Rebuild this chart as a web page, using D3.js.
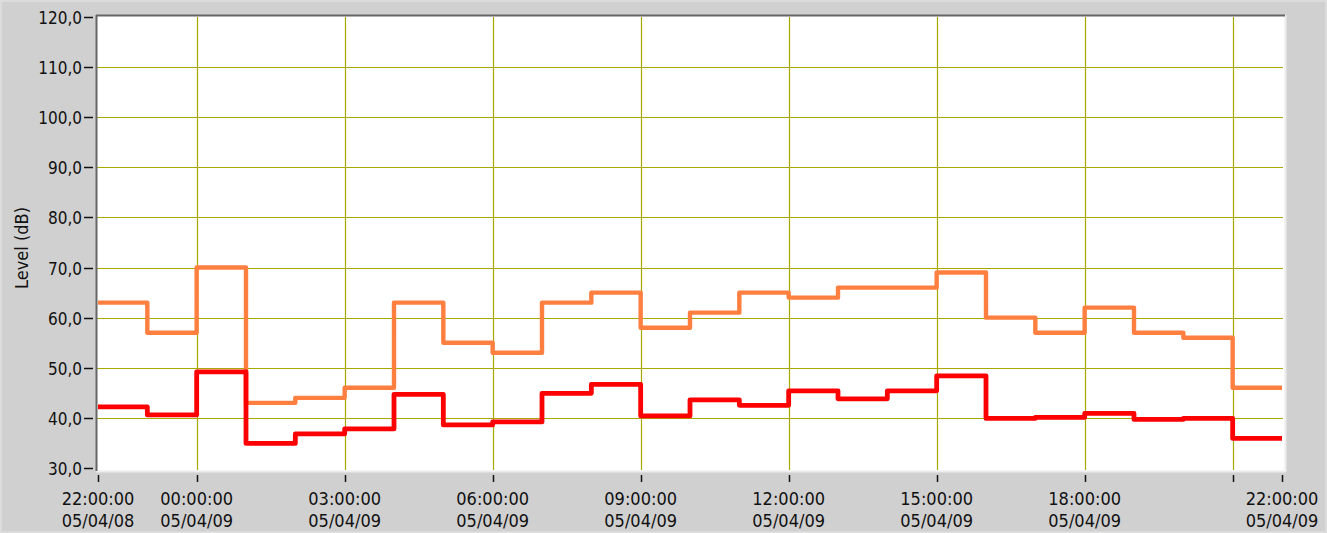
<!DOCTYPE html>
<html>
<head>
<meta charset="utf-8">
<script src="https://cdn.jsdelivr.net/npm/d3@7"></script>
<style>
  html, body { margin: 0; padding: 0; background: #d0d0d0; }
  svg { display: block; }
</style>
</head>
<body>
<svg id="chart" width="1327" height="533"></svg>
<script>
// Hourly start times (hours after 22:00 on 05/04/08)
const hours = d3.range(0, 25);
// Upper (orange) series, dB, one value per hour interval
const seriesUpper = [63, 57, 70, 43, 44, 46, 63, 55, 53, 63, 65, 58, 61, 65, 64, 66, 66, 69, 60, 57, 62, 57, 56, 46];
// Lower (red) series
const seriesLower = [42.2, 40.6, 49.2, 34.9, 36.8, 37.8, 44.7, 38.6, 39.2, 44.9, 46.7, 40.4, 43.6, 42.5, 45.4, 43.8, 45.4, 48.4, 39.9, 40.1, 40.9, 39.7, 39.9, 35.9];
const yTicks = [30, 40, 50, 60, 70, 80, 90, 100, 110, 120];
const xTickHours = [0, 2, 5, 8, 11, 14, 17, 20, 23, 24];
const xTickLabels = {
  0: ["22:00:00", "05/04/08"],
  2: ["00:00:00", "05/04/09"],
  5: ["03:00:00", "05/04/09"],
  8: ["06:00:00", "05/04/09"],
  11: ["09:00:00", "05/04/09"],
  14: ["12:00:00", "05/04/09"],
  17: ["15:00:00", "05/04/09"],
  20: ["18:00:00", "05/04/09"],
  24: ["22:00:00", "05/04/09"]
};
const xGridHours = [2, 5, 8, 11, 14, 17, 20, 23];
const yLabel = "Level (dB)";

const svg = d3.select("#chart");
const font = "'DejaVu Sans Condensed', 'DejaVu Sans', sans-serif";

// outer frame highlight
svg.append("rect").attr("x", 0.5).attr("y", 0.5).attr("width", 1326).attr("height", 532)
  .attr("fill", "#d0d0d0").attr("stroke", "#dcdcdc").attr("stroke-width", 3);

const x = d3.scaleLinear().domain([0, 24]).range([98, 1282]);
const y = d3.scaleLinear().domain([30, 120]).range([468, 17]);

const plot = { left: 96, top: 15, right: 1285, bottom: 471 };

// plot background
svg.append("rect").attr("x", plot.left).attr("y", plot.top)
  .attr("width", plot.right - plot.left).attr("height", plot.bottom - plot.top)
  .attr("fill", "#ffffff");

// light right/bottom border
svg.append("line").attr("x1", plot.right + 0.5).attr("x2", plot.right + 0.5)
  .attr("y1", plot.top).attr("y2", plot.bottom + 1).attr("stroke", "#ececec").attr("stroke-width", 2);
svg.append("line").attr("x1", plot.left).attr("x2", plot.right + 1)
  .attr("y1", plot.bottom + 0.5).attr("y2", plot.bottom + 0.5).attr("stroke", "#ececec").attr("stroke-width", 2);

const gridColor = "#a8a800";
// horizontal grid
svg.append("g").selectAll("line").data(yTicks.filter(v => v > 30 && v < 120)).join("line")
  .attr("x1", plot.left + 1).attr("x2", plot.right - 2)
  .attr("y1", d => Math.round(y(d)) + 0.5).attr("y2", d => Math.round(y(d)) + 0.5)
  .attr("stroke", gridColor).attr("stroke-width", 1.2);
// vertical grid
svg.append("g").selectAll("line").data(xGridHours).join("line")
  .attr("x1", d => Math.round(x(d)) + 0.5).attr("x2", d => Math.round(x(d)) + 0.5)
  .attr("y1", plot.top + 2).attr("y2", plot.bottom - 1)
  .attr("stroke", gridColor).attr("stroke-width", 1.2);

// dark top/left border
svg.append("line").attr("x1", plot.left).attr("x2", plot.right)
  .attr("y1", plot.top + 0.5).attr("y2", plot.top + 0.5).attr("stroke", "#666").attr("stroke-width", 2);
svg.append("line").attr("x1", plot.left + 0.5).attr("x2", plot.left + 0.5)
  .attr("y1", plot.top).attr("y2", plot.bottom).attr("stroke", "#666").attr("stroke-width", 2);

// series lines
const line = d3.line().x(d => x(d[0])).y(d => y(d[1])).curve(d3.curveStepAfter);
function pts(vals) {
  const p = vals.map((v, i) => [hours[i], v]);
  p.push([hours[vals.length], vals[vals.length - 1]]);
  return p;
}
svg.append("path").attr("d", line(pts(seriesUpper)))
  .attr("fill", "none").attr("stroke", "#ff7f40").attr("stroke-width", 4.4)
  .attr("stroke-linejoin", "round");
svg.append("path").attr("d", line(pts(seriesLower)))
  .attr("fill", "none").attr("stroke", "#ff0000").attr("stroke-width", 4.8)
  .attr("stroke-linejoin", "round");

// y axis ticks and labels
const yAxisG = svg.append("g");
yAxisG.selectAll("line").data(yTicks).join("line")
  .attr("x1", 84).attr("x2", 93)
  .attr("y1", d => Math.round(y(d)) + 0.5).attr("y2", d => Math.round(y(d)) + 0.5)
  .attr("stroke", "#111").attr("stroke-width", 1.5);
yAxisG.selectAll("text").data(yTicks).join("text")
  .attr("x", 82).attr("y", d => y(d) + 7)
  .attr("text-anchor", "end").attr("font-family", font).attr("font-size", 17)
  .attr("fill", "#111")
  .text(d => d3.format(".1f")(d).replace(".", ","));

// x axis ticks and labels
const xAxisG = svg.append("g");
xAxisG.selectAll("line").data(xTickHours).join("line")
  .attr("x1", d => Math.round(x(d)) + 0.5).attr("x2", d => Math.round(x(d)) + 0.5)
  .attr("y1", 475).attr("y2", 482)
  .attr("stroke", "#111").attr("stroke-width", 1.5);
const lab = xAxisG.selectAll("text").data(xTickHours.filter(h => xTickLabels[h])).join("text")
  .attr("text-anchor", "middle").attr("font-family", font).attr("font-size", 18).attr("fill", "#111");
lab.append("tspan").attr("x", d => x(d)).attr("y", 505).text(d => xTickLabels[d][0]);
lab.append("tspan").attr("x", d => x(d)).attr("y", 527).text(d => xTickLabels[d][1]);

// y label
svg.append("text")
  .attr("transform", "translate(28,248) rotate(-90)")
  .attr("text-anchor", "middle").attr("font-family", font).attr("font-size", 18)
  .attr("fill", "#111").text(yLabel);
</script>
</body>
</html>
